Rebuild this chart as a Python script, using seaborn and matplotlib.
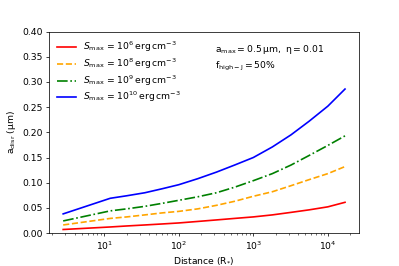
import matplotlib
import matplotlib.pyplot as plt
import pandas as pd
import seaborn as sns

matplotlib.use("Agg")

# distancias (R*) e tamanho de disrupção (um)
distance = [2.8, 12, 20, 35, 60, 100, 180, 320, 560, 1000, 1800, 3200, 5600, 10000, 17000]
a_s6 = [0.007, 0.012, 0.014, 0.016, 0.018, 0.020, 0.023, 0.026, 0.029, 0.032, 0.036, 0.041, 0.046, 0.052, 0.061]
a_s8 = [0.016, 0.029, 0.032, 0.036, 0.040, 0.043, 0.048, 0.055, 0.063, 0.073, 0.082, 0.094, 0.106, 0.118, 0.132]
a_s9 = [0.024, 0.044, 0.048, 0.053, 0.059, 0.065, 0.072, 0.080, 0.091, 0.104, 0.118, 0.135, 0.154, 0.174, 0.193]
a_s10 = [0.038, 0.069, 0.074, 0.080, 0.088, 0.096, 0.108, 0.121, 0.135, 0.150, 0.171, 0.195, 0.222, 0.252, 0.286]

labels = [
    r"$S_{\rm max}$ = $10^{6}\,\rm erg\,cm^{-3}$",
    r"$S_{\rm max}$ = $10^{8}\,\rm erg\,cm^{-3}$",
    r"$S_{\rm max}$ = $10^{9}\,\rm erg\,cm^{-3}$",
    r"$S_{\rm max}$ = $10^{10}\,\rm erg\,cm^{-3}$",
]
colors = ["red", "orange", "green", "blue"]
styles = ["-", "--", "-.", "-"]

plt.rcParams["mathtext.fontset"] = "dejavusans"

# figura 6x4 reduzida para 399x266
fig = plt.figure(figsize=(6, 4), dpi=66.5)
ax = fig.add_axes([0.123, 0.124, 0.777, 0.757])

for vals, lab, col, ls in zip([a_s6, a_s8, a_s9, a_s10], labels, colors, styles):
    df = pd.DataFrame({"d": distance, "a": vals})
    sns.lineplot(data=df, x="d", y="a", ax=ax, color=col, linestyle=ls,
                 linewidth=1.8, label=lab)

ax.set_xscale("log")
ax.set_ylim(0, 0.40)
ax.set_yticks([0, 0.05, 0.10, 0.15, 0.20, 0.25, 0.30, 0.35, 0.40])
ax.set_xlabel(r"Distance (R$_{*}$)")
ax.set_ylabel(r"$\rm a_{disr}$ ($\rm \mu m$)")

ax.legend(loc="upper left", frameon=False, labelspacing=0.25)

ax.text(0.535, 0.91, r"$\rm a_{max} = 0.5\,\mu m,\ \eta = 0.01$",
        transform=ax.transAxes, va="center")
ax.text(0.535, 0.826, r"$\rm f_{high-J} = 50\%$",
        transform=ax.transAxes, va="center")

fig.savefig("out.png", dpi=66.5)
plt.close(fig)
